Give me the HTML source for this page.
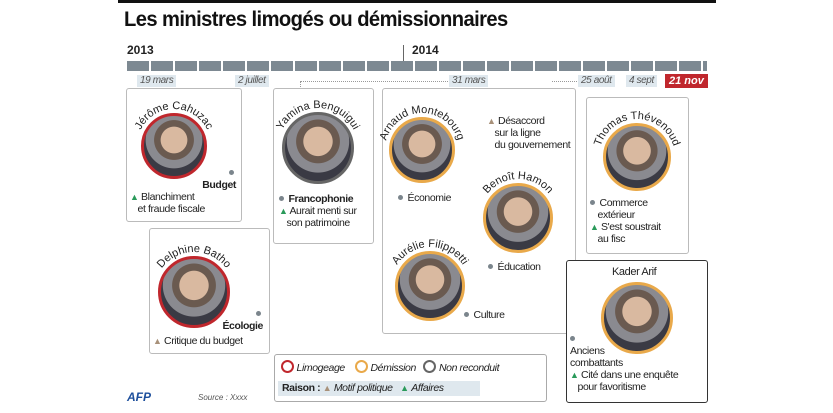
<!DOCTYPE html>
<html><head><meta charset="utf-8"><style>
body{margin:0;width:833px;height:413px;background:#fff;position:relative;overflow:hidden;font-family:"Liberation Sans Narrow","Liberation Sans",sans-serif;color:#222}
.a{position:absolute}
.box{position:absolute;border:1px solid #bbb;border-radius:3px;background:#fff}
.c{position:absolute;border-radius:50%;box-sizing:border-box;background:radial-gradient(circle at 50% 40%,#d9b9a0 0 28%,#6a5a50 29% 42%,#8a8a90 43% 60%,#3a3a44 61%);}
.r{border:3px solid #c0272d}.o{border:3px solid #e9a94a}.g{border:3px solid #666}
.t{font-size:10.5px;line-height:12px;letter-spacing:-0.4px}
.d{position:absolute;font-size:10px;font-style:italic;color:#555;background:#dfe8ee;padding:0 3px;line-height:12px;letter-spacing:-0.4px}
.dot{display:inline-block;width:5px;height:5px;border-radius:50%;background:#7b858c;margin-right:2px;vertical-align:1px}
.tg{color:#2a9a5a;font-size:9px}.tb{color:#a8917a;font-size:9px}
svg text{font-family:"Liberation Sans Narrow","Liberation Sans",sans-serif;font-size:11px;fill:#222}
</style></head><body>
<div class="a" style="left:118px;top:0;width:598px;height:3px;background:#111"></div>
<div class="a" style="left:124px;top:8px;font-size:21px;font-weight:bold;font-family:'Liberation Sans',sans-serif;color:#111;letter-spacing:-0.6px;transform:scaleX(0.96);transform-origin:left">Les ministres limogés ou démissionnaires</div>
<div class="a" style="left:127px;top:43px;font-size:12px;font-weight:bold">2013</div>
<div class="a" style="left:412px;top:43px;font-size:12px;font-weight:bold">2014</div>
<div class="a" style="left:403px;top:45px;width:1px;height:25px;background:#666"></div>
<div class="a" style="left:127px;top:61px;width:580px;height:10px;background:repeating-linear-gradient(90deg,#7d8992 0 22px,#fff 22px 24px)"></div>
<div class="d" style="left:137px;top:75px">19 mars</div>
<div class="d" style="left:235px;top:75px">2 juillet</div>
<div class="d" style="left:449px;top:75px">31 mars</div>
<div class="d" style="left:578px;top:75px">25 août</div>
<div class="d" style="left:626px;top:75px">4 sept</div>
<div class="a" style="left:665px;top:74px;background:#c0272d;color:#fff;font-size:11px;font-weight:bold;font-style:italic;padding:0 4px;line-height:14px">21 nov</div>
<div class="a" style="left:300px;top:81px;width:148px;border-top:1px dotted #999"></div>
<div class="a" style="left:300px;top:81px;height:10px;border-left:1px dotted #999"></div>
<div class="a" style="left:552px;top:81px;width:25px;border-top:1px dotted #999"></div>
<div class="box" style="left:126px;top:88px;width:114px;height:132px"></div>
<div class="box" style="left:149px;top:228px;width:119px;height:124px"></div>
<div class="box" style="left:273px;top:88px;width:99px;height:154px"></div>
<div class="box" style="left:382px;top:88px;width:192px;height:244px"></div>
<div class="box" style="left:586px;top:97px;width:101px;height:155px"></div>
<div class="box" style="left:566px;top:260px;width:140px;height:141px;border:1.5px solid #333"></div>
<div class="c r" style="left:141px;top:113px;width:66px;height:66px"></div>
<div class="c r" style="left:158px;top:256px;width:72px;height:72px"></div>
<div class="c g" style="left:282px;top:112px;width:72px;height:72px"></div>
<div class="c o" style="left:389px;top:117px;width:66px;height:66px"></div>
<div class="c o" style="left:483px;top:183px;width:70px;height:70px"></div>
<div class="c o" style="left:395px;top:251px;width:70px;height:70px"></div>
<div class="c o" style="left:603px;top:123px;width:68px;height:68px"></div>
<div class="c o" style="left:601px;top:282px;width:72px;height:72px"></div>
<svg class="a" style="left:0;top:0" width="833" height="413">
<defs>
<path id="p1" d="M137,146 A37,37 0 0 1 211,146"/>
<path id="p2" d="M154,292 A40,40 0 0 1 234,292"/>
<path id="p3" d="M278,148 A40,40 0 0 1 358,148"/>
<path id="p4" d="M385,150 A37,37 0 0 1 459,150"/>
<path id="p5" d="M479,218 A39,39 0 0 1 557,218"/>
<path id="p6" d="M391,286 A39,39 0 0 1 469,286"/>
<path id="p7" d="M599,157 A38,38 0 0 1 675,157"/>
</defs>
<text><textPath href="#p1" startOffset="50%" text-anchor="middle">Jérôme Cahuzac</textPath></text>
<text><textPath href="#p2" startOffset="50%" text-anchor="middle">Delphine Batho</textPath></text>
<text><textPath href="#p3" startOffset="50%" text-anchor="middle">Yamina Benguigui</textPath></text>
<text><textPath href="#p4" startOffset="50%" text-anchor="middle">Arnaud Montebourg</textPath></text>
<text><textPath href="#p5" startOffset="50%" text-anchor="middle">Benoît Hamon</textPath></text>
<text><textPath href="#p6" startOffset="50%" text-anchor="middle">Aurélie Filippetti</textPath></text>
<text><textPath href="#p7" startOffset="50%" text-anchor="middle">Thomas Thévenoud</textPath></text>
</svg>
<div class="a t" style="left:612px;top:266px;font-size:11px">Kader Arif</div>
<div class="a t" style="left:192px;top:167px;font-weight:bold;text-align:right;width:44px"><span class="dot"></span><br>Budget</div>
<div class="a t" style="left:130px;top:191px"><span class="tg">▲</span> Blanchiment<br>&nbsp;&nbsp;&nbsp;et fraude fiscale</div>
<div class="a t" style="left:212px;top:308px;font-weight:bold;text-align:right;width:51px"><span class="dot"></span><br>Écologie</div>
<div class="a t" style="left:153px;top:335px"><span class="tb">▲</span> Critique du budget</div>
<div class="a t" style="left:279px;top:193px"><span class="dot"></span> <b>Francophonie</b><br><span class="tg">▲</span> Aurait menti sur<br>&nbsp;&nbsp;&nbsp;son patrimoine</div>
<div class="a t" style="left:487px;top:115px"><span class="tb">▲</span> Désaccord<br>&nbsp;&nbsp;&nbsp;sur la ligne<br>&nbsp;&nbsp;&nbsp;du gouvernement</div>
<div class="a t" style="left:398px;top:192px"><span class="dot"></span> Économie</div>
<div class="a t" style="left:488px;top:261px"><span class="dot"></span> Éducation</div>
<div class="a t" style="left:464px;top:309px"><span class="dot"></span> Culture</div>
<div class="a t" style="left:590px;top:197px"><span class="dot"></span> Commerce<br>&nbsp;&nbsp;&nbsp;extérieur<br><span class="tg">▲</span> S'est soustrait<br>&nbsp;&nbsp;&nbsp;au fisc</div>
<div class="a t" style="left:570px;top:333px"><span class="dot"></span><br>Anciens<br>combattants<br><span class="tg">▲</span> Cité dans une enquête<br>&nbsp;&nbsp;&nbsp;pour favoritisme</div>
<div class="box" style="left:274px;top:354px;width:271px;height:46px;border-color:#aaa"></div>
<div class="a t" style="left:281px;top:360px;font-style:italic"><span style="display:inline-block;width:9px;height:9px;border:2px solid #c0272d;border-radius:50%;vertical-align:-2px"></span> Limogeage &nbsp;&nbsp;&nbsp;<span style="display:inline-block;width:9px;height:9px;border:2px solid #e9a94a;border-radius:50%;vertical-align:-2px"></span> Démission &nbsp;&nbsp;<span style="display:inline-block;width:9px;height:9px;border:2px solid #666;border-radius:50%;vertical-align:-2px"></span> Non reconduit</div>
<div class="a t" style="left:278px;top:381px;width:198px;height:15px;line-height:15px;background:#dfe8ee;padding-left:4px"><b>Raison :</b> <span class="tb">▲</span> <i>Motif politique</i> &nbsp;&nbsp;<span class="tg">▲</span> <i>Affaires</i></div>
<div class="a" style="left:127px;top:390px;font-size:12px;font-weight:bold;font-style:italic;color:#1d4f9c">AFP</div>
<div class="a" style="left:198px;top:393px;font-size:8px;font-style:italic;color:#555">Source : Xxxx</div>
</body></html>
